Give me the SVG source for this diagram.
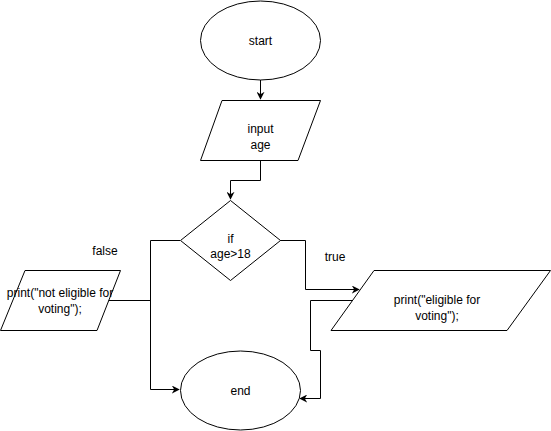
<svg xmlns="http://www.w3.org/2000/svg" width="551" height="431" viewBox="0 0 551 431">
<style>
.s{fill:#fff;stroke:#000;stroke-width:1}
.c{fill:none;stroke:#000;stroke-width:1}
text{font-family:"Liberation Sans",Arial,sans-serif;font-size:12px;fill:#000;text-anchor:middle}
</style>
<defs>
<marker id="a" viewBox="0 0 10 10" refX="9" refY="5" markerWidth="8" markerHeight="8" markerUnits="userSpaceOnUse" orient="auto">
<path d="M0,0 L10,5 L0,10 L3,5 Z" fill="#000"/>
</marker>
</defs>
<g id="connectors">
<path class="c" d="M260.5,80 V99" marker-end="url(#a)"/>
<path class="c" d="M260.5,160 V180.5 H230.5 V199" marker-end="url(#a)"/>
<path class="c" d="M180,240.5 H150.5 V389.5 H179" marker-end="url(#a)"/>
<path class="c" d="M150.5,300.5 H108"/>
<path class="c" d="M280,240.5 H305.5 V289.5 H359" marker-end="url(#a)"/>
<path class="c" d="M352,300.5 H310.5 V350.5 H320.5 V398.5 H300" marker-end="url(#a)"/>
</g>
<g id="start">
<ellipse class="s" cx="260.5" cy="40.5" rx="60" ry="39.5"/>
<text x="260.5" y="44.5">start</text>
</g>
<g id="input">
<polygon class="s" points="222,100.5 320.5,100.5 298,160.5 200.5,160.5"/>
<text x="260.5" y="133">input</text>
<text x="260.5" y="149">age</text>
</g>
<g id="decision">
<polygon class="s" points="230.5,200.5 280.5,240.5 230.5,280.5 180.5,240.5"/>
<text x="230.5" y="243">if</text>
<text x="230.5" y="258">age&gt;18</text>
</g>
<g id="false-label"><text x="105" y="255">false</text></g>
<g id="true-label"><text x="335" y="261">true</text></g>
<g id="not-eligible">
<polygon class="s" points="25,270.5 120.5,270.5 97,330.5 0.5,330.5"/>
<text x="60" y="297">print("not eligible for</text>
<text x="60" y="313">voting");</text>
</g>
<g id="eligible">
<polygon class="s" points="374,270.5 550.5,270.5 507,330.5 331,330.5"/>
<text x="437" y="304">print("eligible for</text>
<text x="437" y="320">voting");</text>
</g>
<g id="end">
<ellipse class="s" cx="240.5" cy="390.5" rx="60" ry="39.5"/>
<text x="240.5" y="394.5">end</text>
</g>
</svg>
